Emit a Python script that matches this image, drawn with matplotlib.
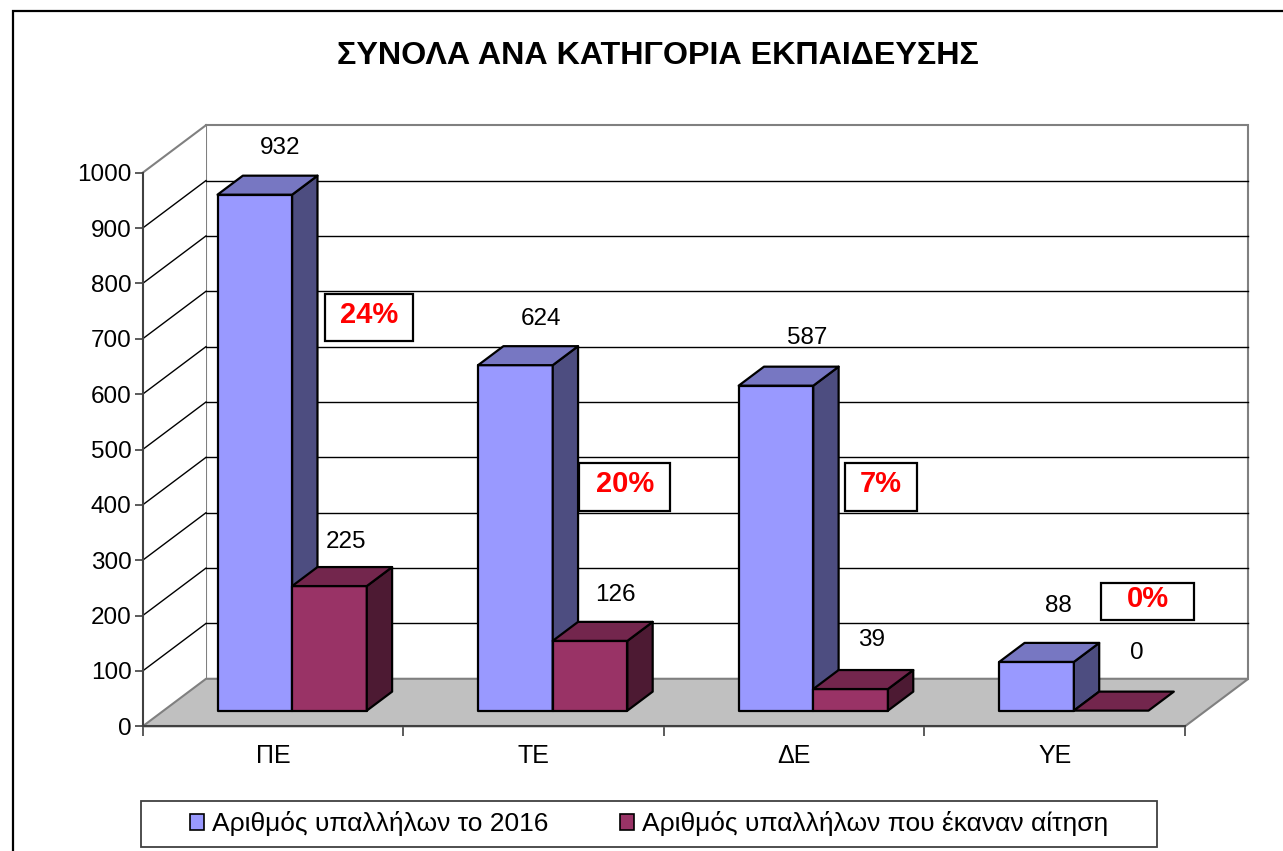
import matplotlib
matplotlib.use('Agg')
import matplotlib.pyplot as plt
from matplotlib.patches import Polygon, Rectangle, Patch
from matplotlib.lines import Line2D

plt.rcParams['font.family'] = ['Liberation Sans', 'DejaVu Sans']

# ---------------- data ----------------
title = 'ΣΥΝΟΛΑ ΑΝΑ ΚΑΤΗΓΟΡΙΑ ΕΚΠΑΙΔΕΥΣΗΣ'
categories = ['ΠΕ', 'ΤΕ', 'ΔΕ', 'ΥΕ']
employees_2016 = [932, 624, 587, 88]
applicants = [225, 126, 39, 0]
series_names = ['Αριθμός υπαλλήλων το 2016', 'Αριθμός υπαλλήλων που έκαναν αίτηση']
pct_labels = ['24%', '20%', '7%', '0%']
yticks = list(range(0, 1001, 100))

# ---------------- layout / style ----------------
W, H = 1283, 851
AX_L, AX_R, AX_B, AX_T = 142.7, 1185.0, 726.3, 172.7   # front plane in pixels
YMAX = 1000
DEPTH_PX = (63.3, 47.5)                                  # 3D depth offset in pixels
F0, F1 = 0.33, 0.73                                      # bar front/back depth fraction
GAP, BW = 0.207, 0.2864                                  # half gap, bar width (category units)
face_colors = [('#9999FF', '#7777C2', '#4D4D80'), ('#993366', '#73264D', '#4D1A33')]
label_off_px = [[28, 27, 29, 37], [25, 27, 30, 39]]      # data label distance above bar (px)
label_dx_px = [[0, 0, 6, -4], [-9, 0, -4, 0]]            # data label horizontal nudge (px)
# percentage boxes: centre x, centre y, width, height (pixels)
pct_boxes = [(369, 317.7, 88, 47), (624.8, 487.3, 91, 48), (880.9, 487.3, 72, 48), (1148, 601.8, 93, 37)]

fig = plt.figure(figsize=(W / 100, H / 100), dpi=100)
fig.patch.set_facecolor('white')
ax = fig.add_axes([AX_L / W, 1 - AX_B / H, (AX_R - AX_L) / W, (AX_B - AX_T) / H])
ax.set_xlim(0, len(categories))
ax.set_ylim(0, YMAX)
ax.patch.set_visible(False)

px_x = (AX_R - AX_L) / len(categories)
px_y = (AX_B - AX_T) / YMAX
DX, DY = DEPTH_PX[0] / px_x, DEPTH_PX[1] / px_y
NC = len(categories)


def to_data(px, py):
    return (px - AX_L) / px_x, (AX_B - py) / px_y


GRAY = '#808080'
# walls
ax.add_patch(Polygon([(DX, DY), (NC + DX, DY), (NC + DX, YMAX + DY), (DX, YMAX + DY)],
                     closed=True, facecolor='white', edgecolor=GRAY, lw=1.5, zorder=0.5, clip_on=False))
ax.add_patch(Polygon([(0, 0), (DX, DY), (DX, YMAX + DY), (0, YMAX)],
                     closed=True, facecolor='white', edgecolor='none', zorder=0.5, clip_on=False))
for v in yticks[1:-1]:
    ax.add_line(Line2D([DX, NC + DX], [v + DY, v + DY], color='black', lw=1.0, zorder=1, clip_on=False))
    ax.add_line(Line2D([0, DX], [v, v + DY], color='black', lw=1.0, zorder=1, clip_on=False))
ax.add_line(Line2D([0, DX], [YMAX, YMAX + DY], color=GRAY, lw=1.5, zorder=1, clip_on=False))
# floor
ax.add_patch(Polygon([(0, 0), (NC, 0), (NC + DX, DY), (DX, DY)],
                     closed=True, facecolor='#C0C0C0', edgecolor=GRAY, lw=1.5, zorder=2, clip_on=False))

# bars
z = 3
for i in range(NC):
    for s, vals in enumerate([employees_2016, applicants]):
        v = vals[i]
        x0 = i + GAP + s * BW
        fc, tc, sc = face_colors[s]
        a0, a1 = F0 * DX, F1 * DX
        b0, b1 = F0 * DY, F1 * DY
        kw = dict(closed=True, edgecolor='black', lw=1.6, joinstyle='round', clip_on=False)
        if v > 0:
            ax.add_patch(Polygon([(x0 + a0, b0), (x0 + BW + a0, b0), (x0 + BW + a0, v + b0), (x0 + a0, v + b0)],
                                 facecolor=fc, zorder=z, **kw))
            ax.add_patch(Polygon([(x0 + BW + a0, b0), (x0 + BW + a1, b1), (x0 + BW + a1, v + b1), (x0 + BW + a0, v + b0)],
                                 facecolor=sc, zorder=z, **kw))
        ax.add_patch(Polygon([(x0 + a0, v + b0), (x0 + BW + a0, v + b0), (x0 + BW + a1, v + b1), (x0 + a1, v + b1)],
                             facecolor=tc, zorder=z, **kw))
        z += 1
        ax.text(x0 + BW / 2 + a1 + label_dx_px[s][i] / px_x, v + b1 + label_off_px[s][i] / px_y, str(v),
                ha='center', va='center', fontsize=17.5, zorder=20)

# percentage boxes
for lab, (cx, cy, bw, bh) in zip(pct_labels, pct_boxes):
    x0, y0 = to_data(cx - bw / 2, cy + bh / 2)
    ax.add_patch(Rectangle((x0, y0), bw / px_x, bh / px_y, facecolor='white', edgecolor='black',
                           lw=1.6, zorder=30, clip_on=False))
    tx, ty = to_data(cx, cy - 3)
    ax.text(tx, ty, lab, ha='center', va='center', fontsize=21, fontweight='bold', color='#FF0000', zorder=31)

# axes / ticks
for side in ['top', 'right']:
    ax.spines[side].set_visible(False)
for side in ['left', 'bottom']:
    ax.spines[side].set_color('#404040')
    ax.spines[side].set_linewidth(1.5)
    ax.spines[side].set_zorder(2.5)
ax.set_yticks(yticks)
ax.set_yticklabels([str(t) for t in yticks])
ax.tick_params(axis='y', direction='out', length=6, width=1.2, color='#404040', pad=2, labelsize=17.5)
ax.set_xticks(range(NC + 1))
ax.set_xticklabels([''] * (NC + 1))
ax.tick_params(axis='x', which='major', direction='out', length=7, width=1.2, color='#404040')
ax.set_xticks([i + 0.5 for i in range(NC)], minor=True)
ax.set_xticklabels(categories, minor=True)
ax.tick_params(axis='x', which='minor', length=0, pad=13, labelsize=18)

# title
fig.text(658 / W, 1 - 56 / H, title, ha='center', va='center', fontsize=23.2, fontweight='bold')

# legend
LG = (141.3, 801, 1156.7, 846.7)
fig.add_artist(Rectangle((LG[0] / W, 1 - LG[3] / H), (LG[2] - LG[0]) / W, (LG[3] - LG[1]) / H,
                         transform=fig.transFigure, facecolor='white', edgecolor='#404040', lw=1.3))
handles = [Patch(facecolor=face_colors[k][0], edgecolor='black', lw=1.2) for k in range(2)]
fig.legend(handles, series_names, loc='center', bbox_to_anchor=((LG[0] + LG[2]) / 2 / W, 1 - (LG[1] + LG[3]) / 2 / H),
           ncol=2, frameon=False, fontsize=19, handlelength=0.55, handleheight=0.55, handletextpad=0.3,
           columnspacing=2.7)

# outer frame
fig.add_artist(Rectangle((12.5 / W, -0.1), 1.2, 1.1 - 11 / H, transform=fig.transFigure,
                         facecolor='none', edgecolor='black', lw=1.6))

fig.savefig('out.png', dpi=100)
